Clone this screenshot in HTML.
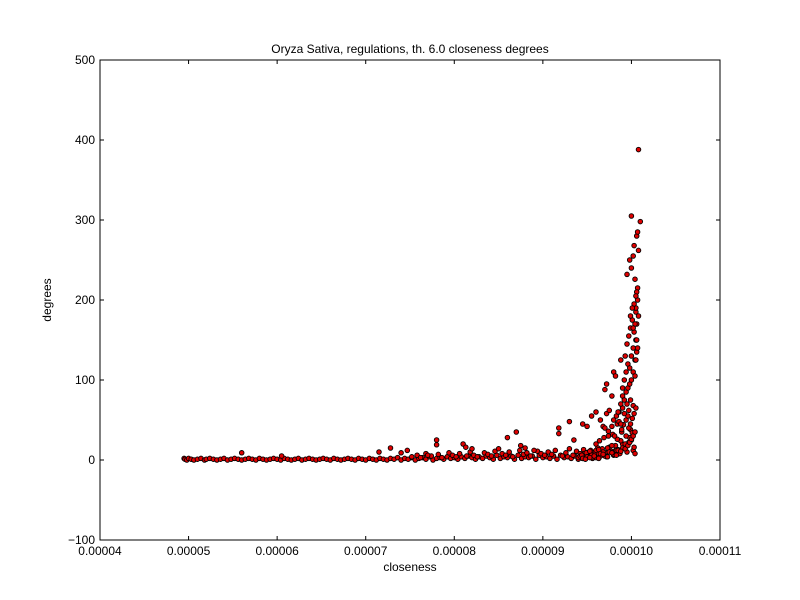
<!DOCTYPE html>
<html><head><meta charset="utf-8">
<style>
body{margin:0;background:#fff;}
svg{display:block;font-family:"Liberation Sans","DejaVu Sans",sans-serif;}
</style></head>
<body>
<svg id="chart" width="800" height="600" viewBox="0 0 800 600">
<rect x="0" y="0" width="800" height="600" fill="#fff"/>
<text x="410" y="53" font-size="12" text-anchor="middle">Oryza Sativa, regulations, th. 6.0 closeness degrees</text>
<g id="marks"></g>
<g id="axes"></g>
<text x="410" y="571" font-size="12" text-anchor="middle">closeness</text>
<text x="51" y="300" font-size="12" text-anchor="middle" transform="rotate(-90 51 300)">degrees</text>
</svg>
<script>
// closeness values in units of 1e-5; degrees aligned index-by-index
const closeness = [
// baseline (120)
4.95,4.96,4.98,5.00,5.03,5.06,5.10,5.14,5.18,5.20,
5.24,5.28,5.32,5.36,5.40,5.44,5.48,5.52,5.56,5.60,
5.64,5.68,5.72,5.76,5.80,5.84,5.88,5.92,5.96,6.00,
6.04,6.08,6.12,6.16,6.20,6.24,6.28,6.32,6.36,6.40,
6.44,6.48,6.52,6.56,6.60,6.64,6.68,6.72,6.76,6.80,
6.84,6.88,6.92,6.96,7.00,7.04,7.08,7.12,7.16,7.20,
7.24,7.28,7.32,7.36,7.40,7.44,7.48,7.52,7.56,7.60,
7.64,7.68,7.72,7.76,7.80,7.84,7.88,7.92,7.96,8.00,
8.04,8.08,8.12,8.16,8.20,8.24,8.28,8.32,8.36,8.40,
8.44,8.48,8.52,8.56,8.60,8.64,8.68,8.72,8.76,8.80,
8.84,8.88,8.92,8.96,9.00,9.04,9.08,9.12,9.16,9.20,
9.24,9.28,9.32,9.36,9.40,9.44,9.48,9.52,9.56,9.60,
// secondary band (50)
7.52,7.58,7.62,7.68,7.74,7.82,7.86,7.94,7.98,8.02,
8.06,8.14,8.18,8.22,8.26,8.34,8.38,8.42,8.46,8.54,
8.58,8.62,8.66,8.74,8.78,8.82,8.86,8.94,8.98,9.02,
9.06,9.10,9.14,9.22,9.26,9.30,9.34,9.38,9.42,9.46,
9.50,9.54,9.58,9.62,9.66,9.70,9.74,9.78,9.82,9.86,
// outliers (30)
5.60,6.05,7.15,7.28,7.40,7.47,7.80,7.80,7.70,8.10,
8.13,8.20,8.50,8.60,8.70,8.75,8.80,8.90,9.18,9.18,
9.30,9.35,9.45,9.50,9.55,9.60,9.65,9.68,9.72,9.75,
// cluster (100)
9.40,9.42,9.45,9.47,9.50,9.52,9.55,9.57,9.60,9.62,
9.65,9.67,9.70,9.72,9.75,9.77,9.80,9.82,9.85,9.87,
9.90,9.92,9.95,9.97,10.00,10.02,10.04,9.44,9.49,9.53,
9.58,9.63,9.68,9.73,9.78,9.83,9.88,9.93,9.98,10.03,
9.60,9.64,9.69,9.74,9.79,9.84,9.89,9.94,9.99,10.01,
9.70,9.74,9.78,9.81,9.84,9.86,9.89,9.91,9.94,9.96,
9.80,9.83,9.86,9.88,9.90,9.92,9.95,9.97,9.99,10.02,
9.85,9.88,9.90,9.92,9.94,9.96,9.98,10.00,10.02,10.04,
9.90,9.92,9.94,9.96,9.98,10.00,10.02,10.04,10.05,10.06,
9.93,9.95,9.97,9.99,10.01,10.03,10.05,10.06,10.07,10.08,
// upper column (30)
9.70,9.72,9.78,9.80,9.82,9.88,9.95,9.98,10.00,10.00,
10.02,10.03,10.04,10.05,10.06,10.07,10.08,10.10,10.08,10.07,
10.06,10.05,10.03,10.01,10.04,10.06,10.02,10.07,10.05,9.99,
// extra dense fill (30)
9.45,9.50,9.55,9.60,9.65,9.70,9.75,9.80,9.85,9.90,
9.48,9.53,9.58,9.63,9.68,9.73,9.78,9.83,9.88,9.93,
9.96,9.98,10.00,10.02,10.04,9.97,9.99,10.01,10.03,10.05
];
const degrees = [
2,1,0,2,1,0,1,2,0,1,
2,1,0,1,2,0,1,2,1,0,
1,2,1,0,2,1,0,1,2,1,
0,2,1,0,1,2,0,1,2,1,
0,1,2,1,0,2,1,0,1,2,
1,0,2,1,0,2,1,0,2,1,
0,2,1,3,0,2,1,3,0,2,
3,1,4,0,2,3,1,4,2,3,
1,4,2,5,3,1,4,2,5,3,
1,6,2,4,3,5,1,6,2,4,
3,5,1,6,3,4,2,5,1,6,
3,4,2,5,1,7,3,4,2,5,
4,6,3,8,5,7,3,9,6,4,
8,5,10,6,4,9,7,5,11,8,
6,10,4,12,7,9,5,11,8,6,
10,7,12,5,9,14,6,11,8,13,
7,12,9,15,10,6,14,9,12,8,
9,5,10,15,9,12,25,19,6,20,
16,14,14,28,35,18,15,12,40,33,
48,25,45,42,55,60,50,42,58,62,
3,5,2,8,4,10,6,3,12,7,
5,14,9,4,16,11,6,18,13,8,
20,15,10,22,25,12,8,6,9,11,
7,13,10,15,18,12,24,20,28,16,
20,24,28,30,32,26,35,30,38,34,
40,36,42,30,45,48,38,44,50,55,
50,55,60,45,65,58,70,62,75,68,
60,70,80,75,85,90,95,100,110,105,
90,100,110,120,115,130,140,125,150,135,
130,145,155,165,175,160,185,170,200,180,
88,95,80,110,105,125,232,250,305,240,
255,268,226,190,280,285,262,298,388,215,
210,205,195,190,170,150,165,140,125,180,
2,4,6,3,8,5,10,7,12,15,
1,3,5,2,7,4,9,6,11,14,
18,22,26,30,35,40,45,52,58,65
];
const xTickLabels = ["0.00004","0.00005","0.00006","0.00007","0.00008","0.00009","0.00010","0.00011"];
const xTickValues = [4,5,6,7,8,9,10,11];
const yTickValues = [-100,0,100,200,300,400,500];
const yTickLabels = ["\u2212100","0","100","200","300","400","500"];

const L=100,R=720,T=60,B=540;
const xMin=4,xMax=11,yMin=-100,yMax=500;
function xs(v){return L+(v-xMin)/(xMax-xMin)*(R-L);}
function ys(v){return B-(v-yMin)/(yMax-yMin)*(B-T);}
const NS="http://www.w3.org/2000/svg";
const marks=document.getElementById('marks');
const n=Math.min(closeness.length,degrees.length);
for(let i=0;i<n;i++){
  const c=document.createElementNS(NS,'circle');
  c.setAttribute('cx',xs(closeness[i]).toFixed(1));
  c.setAttribute('cy',ys(degrees[i]).toFixed(1));
  c.setAttribute('r','2.3');
  c.setAttribute('fill','#e00000');
  c.setAttribute('stroke','#000');
  c.setAttribute('stroke-width','0.9');
  
  
  marks.appendChild(c);
}
const axes=document.getElementById('axes');
const frame=document.createElementNS(NS,'rect');
frame.setAttribute('x',L);frame.setAttribute('y',T);
frame.setAttribute('width',R-L);frame.setAttribute('height',B-T);
frame.setAttribute('fill','none');frame.setAttribute('stroke','#000');


axes.appendChild(frame);
function line(x1,y1,x2,y2,name){
  const l=document.createElementNS(NS,'line');
  l.setAttribute('x1',x1);l.setAttribute('y1',y1);l.setAttribute('x2',x2);l.setAttribute('y2',y2);
  l.setAttribute('stroke','#000');
  
  
  axes.appendChild(l);
}
function text(x,y,s,anchor,name){
  const t=document.createElementNS(NS,'text');
  t.setAttribute('x',x);t.setAttribute('y',y);t.setAttribute('font-size','12');
  t.setAttribute('text-anchor',anchor);t.textContent=s;
  
  
  axes.appendChild(t);
}
xTickValues.forEach((v,i)=>{
  const x=xs(v);
  line(x,B,x,B-4,'x-tick');line(x,T,x,T+4,'x-tick-top');
  text(x,B+15,xTickLabels[i],'middle','x-tick-label');
});
yTickValues.forEach((v,i)=>{
  const y=ys(v);
  line(L,y,L+4,y,'y-tick');line(R,y,R-4,y,'y-tick-right');
  text(L-5,y+4,yTickLabels[i],'end','y-tick-label');
});
</script>
</body></html>
